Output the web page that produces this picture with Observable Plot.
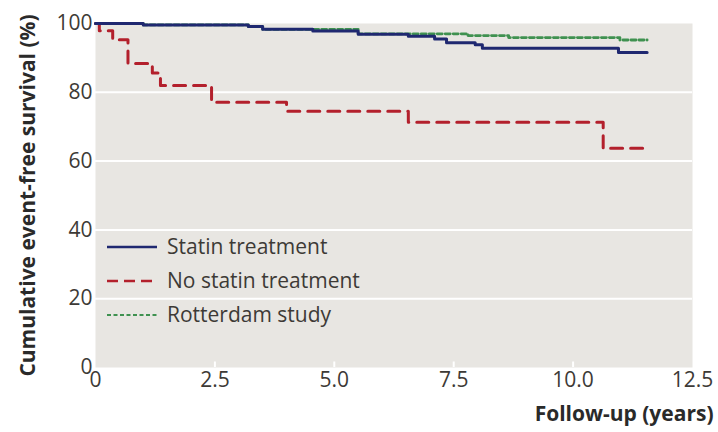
<!DOCTYPE html>
<html>
<head>
<meta charset="utf-8">
<script src="https://cdn.jsdelivr.net/npm/d3@7"></script>
<script src="https://cdn.jsdelivr.net/npm/@observablehq/plot@0.6"></script>
<style>
  html, body { margin: 0; padding: 0; background: #fff; }
  #chart { position: relative; width: 718px; height: 432px; }
</style>
</head>
<body>
<div id="chart"></div>
<script>
// Kaplan–Meier step data (years, % event-free)
const statinYears  = [0, 1.0, 3.2, 3.5, 4.55, 5.5, 6.55, 7.1, 7.35, 7.95, 8.1, 10.95, 11.55];
const statinValues = [100, 99.6, 99.1, 98.3, 97.8, 96.9, 96.3, 95.5, 94.4, 93.8, 92.8, 91.6, 91.6];

const noStatinYears  = [0, 0.08, 0.36, 0.68, 1.19, 1.36, 2.43, 4.0, 6.55, 10.63, 11.6];
const noStatinValues = [100, 97.9, 95.3, 88.4, 85.6, 82.0, 77.1, 74.5, 71.3, 63.7, 63.7];

const rotterdamYears  = [0, 1.0, 3.2, 3.5, 5.5, 7.8, 8.65, 10.98, 11.55];
const rotterdamValues = [100, 99.6, 99.1, 98.3, 97.0, 96.5, 95.9, 95.2, 95.2];

const seriesNames = ["Statin treatment", "No statin treatment", "Rotterdam study"];
const seriesColors = ["#1f2870", "#b3202c", "#3f9150"];
const seriesWidths = [3, 3, 2.8];
const seriesDash = [null, "12,8", "5,3"];

const xTicks = [0, 2.5, 5.0, 7.5, 10.0, 12.5];
const xTickLabels = ["0", "2.5", "5.0", "7.5", "10.0", "12.5"];
const yTicks = [0, 20, 40, 60, 80, 100];
const gridValues = [20, 40, 60, 80];

const yTitle = "Cumulative event-free survival (%)";
const xTitle = "Follow-up (years)";

const toRows = (xs, ys) => xs.map((x, i) => ({x, y: ys[i]}));
const series = [
  toRows(statinYears, statinValues),
  toRows(noStatinYears, noStatinValues),
  toRows(rotterdamYears, rotterdamValues)
];

const FONT = "'Open Sans', 'Noto Sans', sans-serif";
const drawOrder = [2, 1, 0];

const plot = Plot.plot({
  width: 718,
  height: 432,
  marginLeft: 95,
  marginRight: 26,
  marginTop: 23,
  marginBottom: 65,
  style: {fontFamily: FONT, color: "#3d3a36", background: "#ffffff", overflow: "visible"},
  x: {domain: [0, 12.5]},
  y: {domain: [0, 100]},
  marks: [
    Plot.frame({fill: "#e8e6e2", stroke: null}),
    Plot.gridY(gridValues, {stroke: "#ffffff", strokeOpacity: 1, strokeWidth: 2}),
    Plot.ruleX(xTicks.slice(1, -1), {y1: 0, y2: 1.6, stroke: "#ffffff", strokeWidth: 2}),
    Plot.axisY({ticks: yTicks, tickSize: 0, tickPadding: 3, fontSize: 21, label: null}),
    Plot.axisX({ticks: xTicks, tickFormat: (d) => xTickLabels[xTicks.indexOf(d)], tickSize: 0, tickPadding: 5, fontSize: 21, label: null}),
    ...drawOrder.map(i => Plot.line(series[i], {
      x: "x", y: "y", curve: "step-after",
      stroke: seriesColors[i], strokeWidth: seriesWidths[i],
      strokeDasharray: seriesDash[i]
    })),
    Plot.text([yTitle], {frameAnchor: "left", textAnchor: "middle", rotate: -90, dx: -67, fontWeight: "bold", fontSize: 21, fill: "#2a2a2a"}),
    Plot.text([xTitle], {frameAnchor: "bottom-right", textAnchor: "end", dx: 21, dy: 53, fontWeight: "bold", fontSize: 21, fill: "#2a2a2a"})
  ]
});

document.getElementById("chart").appendChild(plot);

// Legend inside the plot area
const svg = d3.select(plot);
const legend = svg.append("g")
  .attr("font-family", FONT).attr("font-size", 21)
  .attr("fill", "#3d3a36").attr("text-anchor", "start");
seriesNames.forEach((name, i) => {
  const cy = 247 + i * 34;
  legend.append("line")
    .attr("x1", 107).attr("x2", 157).attr("y1", cy).attr("y2", cy)
    .attr("stroke", seriesColors[i])
    .attr("stroke-width", i === 2 ? 2 : 2.5)
    .attr("stroke-dasharray", i === 0 ? null : (i === 1 ? "11,6" : "4,2.5"));
  legend.append("text")
    .attr("x", 167).attr("y", cy).attr("dy", "0.35em")
    .text(name);
});
</script>
</body>
</html>
